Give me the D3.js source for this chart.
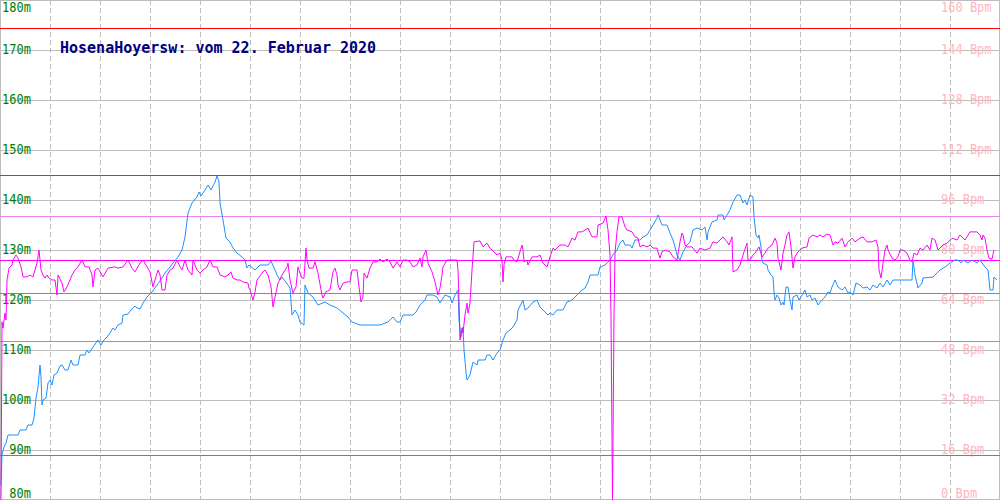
<!DOCTYPE html>
<html>
<head>
<meta charset="utf-8">
<script src="https://cdn.jsdelivr.net/npm/d3@7/dist/d3.min.js"></script>
<style>
  html, body { margin: 0; padding: 0; background: #fff; }
  svg { display: block; }
</style>
</head>
<body>
<svg id="chart" width="1000" height="500"></svg>
<script>
// ---------- data ----------
const title = "HosenaHoyersw: vom 22. Februar 2020";

const altTicks = [80, 90, 100, 110, 120, 130, 140, 150, 160, 170, 180];
const bpmTicks = [0, 16, 32, 48, 64, 80, 96, 112, 128, 144, 160];
const timeGrid = [50, 100, 150, 200, 250, 300, 350, 400, 450, 500, 550, 600, 650, 700, 750, 800, 850, 900, 950];

// reference lines (altitude in m, pulse in Bpm)
const altRefValues = [145, 121.5, 89];
const altRefColors = ["#228b22", "#3cb371", "#2aa0a0"];
const bpmRefValues = [151, 90.8, 76.8, 50.8];
const bpmRefColors = ["#ff0000", "#ee82ee", "#ff00ff", "#d070d0"];

// altitude series (time, metres)
const altTime = [1,2,4,6,8,18,20,26,28,32,34,36,38,40,41,42,43,46,48,50,52,54,57,60,62,65,68,71,73,78,80,85,87,89,93,98,101,104,107,110,113,115,118,122,123,128,132,135,137,140,143,147,152,157,162,165,170,173,178,182,185,188,192,197,199,201,205,208,211,215,217,219,220,223,226,230,233,237,242,245,247,249,255,260,268,271,275,277,280,282,288,290,292,295,298,300,304,305,308,313,318,325,330,337,343,348,352,360,370,380,388,393,397,400,403,413,416,420,425,427,433,437,440,445,450,452,455,458,459,461,463,464,466,467,470,473,477,478,485,487,490,493,497,500,503,506,510,513,517,518,523,525,528,533,537,540,543,548,550,553,557,563,567,572,577,580,585,588,590,598,600,605,610,613,617,620,623,625,630,632,635,640,643,647,650,653,657,658,660,662,667,670,673,675,677,680,683,687,690,693,697,702,705,707,708,712,717,718,723,724,727,730,733,737,740,743,745,747,750,753,754,756,758,759,761,762,763,767,768,771,773,774,775,777,779,781,783,784,786,788,790,792,793,797,799,802,805,807,810,812,815,818,822,825,828,830,832,835,838,842,845,848,850,853,856,860,863,867,870,873,877,880,883,887,890,893,912,913,915,918,922,923,933,937,940,945,950,955,958,961,963,968,972,977,980,985,988,990,993,994,997];
const altValues = [83.0,89.0,90.6,91.4,93.0,93.0,94.0,94.0,95.0,95.0,96.4,100.4,102.6,107.0,104.6,99.0,100.0,100.4,103.4,104.0,103.0,105.0,105.4,106.8,107.0,106.0,106.0,108.0,107.0,107.0,109.0,109.0,110.0,109.4,110.6,112.0,111.0,112.0,112.6,113.4,114.4,114.0,115.0,115.4,117.0,117.2,118.2,118.8,118.4,118.2,119.4,120.6,121.6,123.0,124.4,125.4,126.6,127.4,128.6,130.0,132.6,137.4,139.4,140.6,141.6,140.8,142.0,143.0,142.0,143.6,144.8,143.6,139.4,136.0,132.4,131.6,130.4,129.4,128.6,128.0,126.4,127.0,126.0,127.0,127.0,127.8,126.0,125.0,124.0,124.6,123.0,122.4,117.0,118.0,117.0,115.6,115.0,123.0,121.4,120.6,119.0,119.6,119.0,118.4,117.4,116.6,115.6,115.0,115.0,115.0,115.6,116.6,115.6,115.6,117.0,117.0,117.6,119.0,120.0,121.0,121.0,120.6,119.4,121.0,120.6,119.4,121.0,122.0,116.0,112.6,114.6,110.0,105.6,104.0,105.0,107.6,107.0,108.0,108.0,109.0,109.0,108.0,109.4,110.0,112.0,113.4,114.0,114.6,116.0,118.0,120.0,118.0,118.4,119.6,120.0,118.6,118.0,117.0,117.4,117.0,118.0,118.0,119.6,120.0,121.0,121.6,122.4,123.6,125.0,125.0,126.6,127.0,128.0,129.0,130.0,131.4,132.0,131.0,131.0,130.4,132.0,132.0,132.6,133.0,134.0,135.0,136.4,137.0,136.0,135.0,135.0,133.4,132.0,130.6,129.0,128.0,129.6,131.0,131.6,134.0,134.4,134.0,134.6,132.0,133.6,135.6,136.0,137.0,137.0,136.0,137.0,138.0,139.6,141.0,141.0,139.4,140.0,139.0,141.0,140.6,136.6,133.0,132.4,133.0,130.6,128.0,127.4,127.0,126.0,125.0,124.6,121.6,120.0,121.0,120.4,119.0,119.6,119.0,122.6,122.6,120.0,118.0,120.6,121.0,120.0,121.0,122.0,120.6,121.0,120.0,120.4,119.0,120.0,120.6,121.6,121.4,122.6,124.0,122.6,122.0,122.6,121.4,121.6,121.0,123.4,123.0,122.4,122.6,122.0,123.0,122.4,123.4,122.6,124.0,123.0,124.0,124.0,128.0,125.0,122.4,123.4,124.4,124.6,125.4,126.0,126.6,127.4,128.0,128.0,127.4,128.0,127.4,128.0,127.4,128.0,126.6,126.0,122.0,122.0,124.6,124.0];

// pulse series (time, Bpm)
const bpmTime = [1,2,3,5,6,7,9,12,13,16,18,21,23,27,30,33,37,39,41,43,45,47,49,52,55,57,58,62,64,67,72,75,78,82,85,89,92,93,95,98,103,108,115,118,123,128,132,135,140,143,147,150,153,155,158,160,162,165,167,170,173,177,180,182,185,188,192,193,197,200,203,207,210,213,217,220,225,228,231,233,237,240,243,248,249,250,253,255,257,262,265,268,271,273,275,278,282,287,288,290,293,296,298,300,302,304,306,307,309,313,315,318,322,323,326,330,333,335,337,338,340,343,347,350,352,357,359,361,363,364,367,370,373,377,380,383,387,390,393,397,400,403,407,410,413,417,420,422,423,426,428,432,435,438,440,442,443,447,452,457,458,459,460,462,463,465,467,468,470,472,474,480,483,487,490,497,500,502,503,504,506,512,514,517,519,522,523,524,527,528,532,537,540,543,547,550,553,555,560,565,568,572,575,578,582,588,592,597,598,603,606,608,610,611,612,612.5,613,614,615,617,619,622,625,627,632,635,638,640,643,647,650,653,657,658,660,662,665,670,673,677,680,682,683,685,687,692,697,700,705,710,713,717,720,723,727,729,732,733,737,740,743,747,748,750,753,755,757,759,762,765,768,772,775,777,778,781,783,785,787,789,791,793,795,798,802,807,809,813,817,820,823,827,830,833,835,838,842,845,848,852,855,860,863,867,872,876,878,879,881,883,885,887,888,892,895,898,900,903,907,910,912,914,917,920,923,927,930,932,935,938,943,947,952,957,960,965,970,977,980,982,983,985,987,989,992,994];
const bpmValues = [0,57.0,55.0,59.8,57.6,70.4,74.2,75.2,76.8,78.4,77.4,74.6,71.4,71.4,72.0,71.4,75.8,80.0,73.6,72.0,71.0,72.0,71.0,70.4,70.4,65.6,72.0,69.4,66.6,68.2,72.0,73.6,74.6,76.8,74.6,74.6,72.0,68.2,73.6,74.2,71.4,74.2,74.6,74.2,74.6,76.8,74.2,73.0,75.8,76.8,74.6,73.0,68.2,70.4,73.6,72.0,67.2,67.2,72.0,73.6,74.2,76.8,74.6,73.6,76.8,73.6,72.0,76.8,73.6,72.6,73.6,74.6,76.8,74.6,74.6,72.0,71.4,72.0,73.0,71.0,70.4,70.4,69.8,69.4,67.8,67.2,64.0,66.6,70.4,72.6,73.6,72.0,68.2,61.8,65.0,69.4,72.0,74.6,75.8,70.4,66.2,68.2,74.6,72.6,71.0,71.0,80.6,76.8,74.2,74.2,76.2,72.6,65.6,64.6,66.6,67.2,73.0,74.2,72.0,68.8,67.2,69.4,69.8,69.8,73.6,73.6,68.2,63.4,65.0,72.6,71.0,74.2,76.2,76.2,77.1,76.2,77.1,76.2,74.2,76.2,74.6,76.8,76.8,76.2,74.6,75.2,77.4,74.6,77.8,80.0,75.8,73.0,69.8,65.6,67.8,72.0,74.6,76.8,76.8,76.8,73.6,64.0,51.2,55.0,53.4,59.2,63.0,59.8,63.0,73.6,82.6,82.9,81.0,82.2,80.6,78.4,79.0,76.8,69.8,75.2,77.8,77.8,76.8,76.2,78.4,81.6,80.0,76.2,76.8,75.2,77.8,77.8,78.4,75.8,74.6,77.8,80.6,80.0,81.6,81.6,81.0,83.8,83.2,85.8,85.8,87.0,84.2,84.2,88.0,88.6,90.9,86.4,78.4,58.6,19.8,0,19.8,58.6,79.0,85.8,90.6,90.6,87.4,86.4,85.8,84.2,83.8,81.0,81.6,81.0,81.6,80.6,80.6,79.4,77.4,79.4,80.0,79.4,77.8,76.8,82.6,85.4,84.8,81.6,81.0,81.0,79.0,80.6,80.0,80.6,82.6,82.2,83.2,84.2,82.6,81.6,84.2,73.0,73.6,75.2,78.4,82.2,76.8,76.8,78.4,79.0,80.0,81.0,77.8,79.0,80.6,81.6,83.8,82.2,77.4,73.6,79.0,81.6,84.8,85.8,81.0,74.2,77.8,79.4,80.6,81.0,83.8,84.8,84.2,84.8,84.2,85.1,84.8,81.6,82.6,82.2,83.8,81.0,82.6,83.8,82.6,83.8,84.2,82.6,82.6,83.2,81.0,73.6,71.0,75.8,80.0,81.6,80.0,77.4,76.8,77.8,80.0,80.0,79.0,76.8,76.2,79.0,78.4,80.6,80.0,81.6,80.0,83.8,83.2,80.0,81.6,82.2,83.8,83.2,84.8,83.2,85.8,85.8,84.8,83.2,84.8,83.8,80.0,77.4,77.1,80.0];

// ---------- drawing ----------
const W = 1000, H = 500;
const svg = d3.select("#chart");

const x = d3.scaleLinear().domain([0, 1000]).range([0, W]);
const yAlt = d3.scaleLinear().domain([80, 180]).range([H, 0]);
const yBpm = d3.scaleLinear().domain([0, 160]).range([H, 0]);

const crisp = v => Math.min(Math.round(v), H - 1) + 0.5;
const crispX = v => Math.min(Math.round(v), W - 1) + 0.5;

svg.append("rect").attr("width", W).attr("height", H).attr("fill", "#fff");

// horizontal grid
svg.append("g").selectAll("line").data(altTicks).join("line")
  .attr("x1", 0).attr("x2", W)
  .attr("y1", d => crisp(yAlt(d))).attr("y2", d => crisp(yAlt(d)))
  .attr("stroke", "#bdbdbd").attr("stroke-width", 1);

// vertical dashed grid
svg.append("g").selectAll("line").data(timeGrid).join("line")
  .attr("x1", d => crispX(x(d))).attr("x2", d => crispX(x(d)))
  .attr("y1", 0).attr("y2", H)
  .attr("stroke", "#bdbdbd").attr("stroke-width", 1)
  .attr("stroke-dasharray", "5,3");

// borders
svg.append("g").selectAll("line").data([0, 1000]).join("line")
  .attr("x1", d => crispX(x(d))).attr("x2", d => crispX(x(d)))
  .attr("y1", 0).attr("y2", H)
  .attr("stroke", "#bdbdbd").attr("stroke-width", 1);

const labelY = v => Math.max(12, Math.min(498, v + 4));
const fontFam = "'DejaVu Sans Mono', 'Liberation Mono', monospace";

// left labels
svg.append("g").selectAll("text").data(altTicks).join("text")
  .attr("transform", d => `translate(31,${labelY(yAlt(d))}) scale(1,1.2)`)
  .attr("text-anchor", "end")
  .attr("font-family", fontFam).attr("font-size", 12)
  .attr("fill", "#008000")
  .text(d => d + "m");

// right labels
svg.append("g").selectAll("text").data(bpmTicks).join("text")
  .attr("transform", d => `translate(941,${labelY(yBpm(d))}) scale(1,1.2)`)
  .attr("text-anchor", "start")
  .attr("font-family", fontFam).attr("font-size", 12)
  .attr("fill", "#ffb6c1")
  .text(d => d + " Bpm");

// reference lines
svg.append("g").selectAll("line").data(altRefValues).join("line")
  .attr("x1", 0).attr("x2", W)
  .attr("y1", d => crisp(yAlt(d))).attr("y2", d => crisp(yAlt(d)))
  .attr("stroke", (d, i) => altRefColors[i]).attr("stroke-width", 1);
svg.append("g").selectAll("line").data(bpmRefValues).join("line")
  .attr("x1", 0).attr("x2", W)
  .attr("y1", d => crisp(yBpm(d))).attr("y2", d => crisp(yBpm(d)))
  .attr("stroke", (d, i) => bpmRefColors[i]).attr("stroke-width", 1);

// series
const altData = altTime.map((t, i) => [t, altValues[i]]);
const bpmData = bpmTime.map((t, i) => [t, bpmValues[i]]);

svg.append("path").datum(altData)
  .attr("fill", "none").attr("stroke", "#1e90ff").attr("stroke-width", 1)
  .attr("d", d3.line().x(d => x(d[0])).y(d => yAlt(d[1])));

svg.append("path").datum(bpmData)
  .attr("fill", "none").attr("stroke", "#ff00ff").attr("stroke-width", 1)
  .attr("d", d3.line().x(d => x(d[0])).y(d => yBpm(d[1])));

// title
svg.append("text")
  .attr("x", 60).attr("y", 53)
  .attr("font-family", fontFam).attr("font-size", 15).attr("font-weight", "bold")
  .attr("fill", "#000080")
  .text(title);
</script>
</body>
</html>
